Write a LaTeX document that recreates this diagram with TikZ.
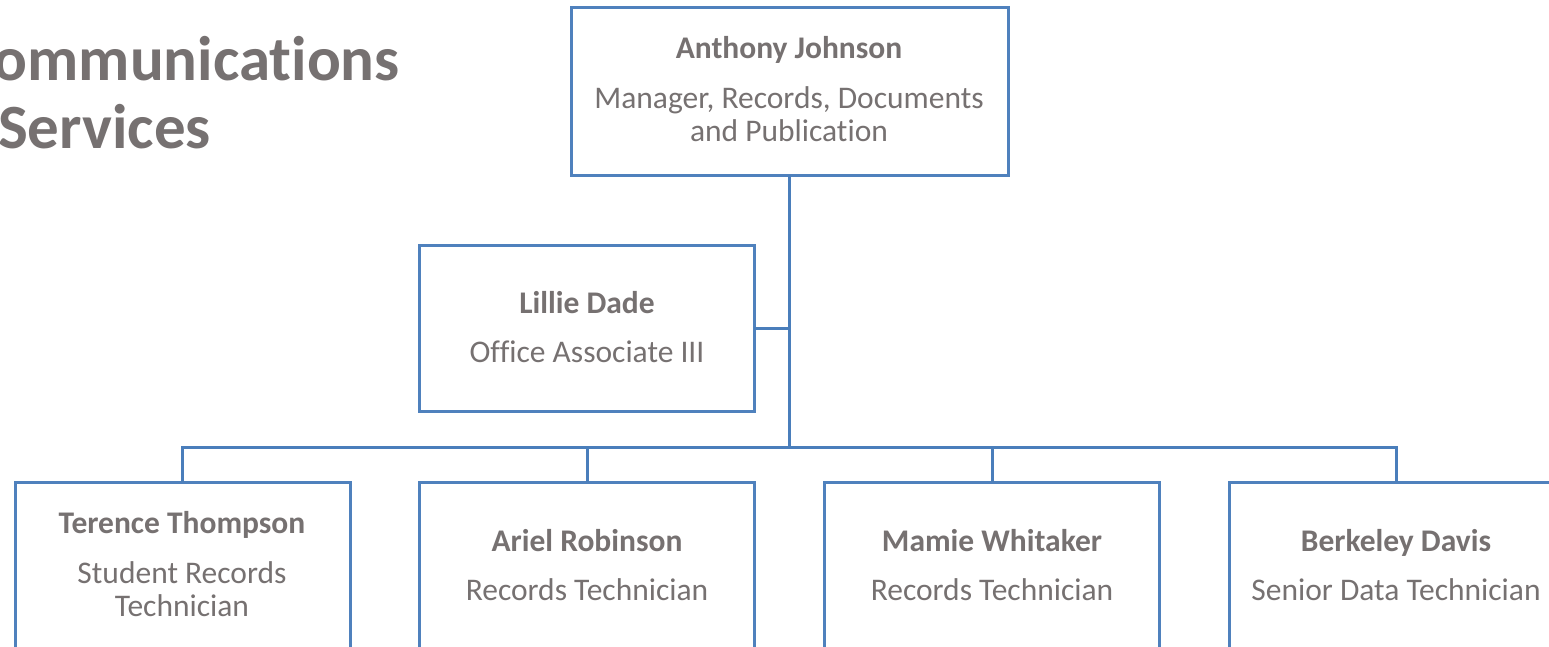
\documentclass[tikz,border=0pt]{standalone}
\usepackage{fontspec}
\setmainfont{Carlito}[Ligatures=NoCommon]
\definecolor{txtgray}{RGB}{118,113,113}
\definecolor{lineblue}{RGB}{79,129,189}
\definecolor{connblue}{RGB}{74,126,187}
\begin{document}
\begin{tikzpicture}[x=1pt,y=-1pt,
  box/.style={draw=lineblue,line width=3pt,fill=white,inner sep=0pt},
  conn/.style={draw=connblue,line width=3pt},
  lbl/.style={text=txtgray,align=center,font=\fontsize{31.5}{33}\selectfont},
  nm/.style={font=\bfseries\fontsize{31.5}{33}\selectfont}]
\useasboundingbox (0,0) rectangle (1549,646);
\clip (0,0) rectangle (1549,646);
% title
\node[anchor=base east,text=txtgray,font=\bfseries\fontsize{63}{68}\selectfont,inner sep=0pt] (t1) at (400,80) {Communications};
\node[anchor=base west,text=txtgray,font=\bfseries\fontsize{63}{68}\selectfont,inner sep=0pt] (t2) at (-2,148) {Services};
% boxes
\path[box] (571,7) rectangle (1008,175);
\coordinate (topbot) at (789,175);
\path[box] (419,245) rectangle (754,411);
\coordinate (lright) at (754,328);
\foreach \x in {15,419,824,1229}{
  \path[box] (\x,482) rectangle ++(335,200);
}
% connectors
\coordinate (junc) at (789,328);
\coordinate (bar) at (789,447);
\draw[conn] (topbot) -- (bar);
\draw[conn] (lright) -- (junc);
\draw[conn] (182,482) -- (182,447) -- (1396,447) -- (1396,482);
\draw[conn] (587,447) -- (587,482);
\draw[conn] (992,447) -- (992,482);
% texts
\node[lbl,nm] (n1) at (789,50) {Anthony Johnson};
\node[lbl] (r1) at (789,114) {Manager, Records, Documents\\and Publication};
\node[lbl,nm] (n2) at (587,303) {Lillie Dade};
\node[lbl] (r2) at (587,352) {Office Associate III};
\node[lbl,nm] (n3) at (182,525) {Terence Thompson};
\node[lbl] (r3) at (182,589) {Student Records\\Technician};
\node[lbl,nm] (n4) at (587,541) {Ariel Robinson};
\node[lbl] (r4) at (587,590) {Records Technician};
\node[lbl,nm] (n5) at (992,541) {Mamie Whitaker};
\node[lbl] (r5) at (992,590) {Records Technician};
\node[lbl,nm] (n6) at (1396,543) {Berkeley Davis};
\node[lbl] (r6) at (1396,590) {Senior Data Technician};
\end{tikzpicture}
\end{document}
